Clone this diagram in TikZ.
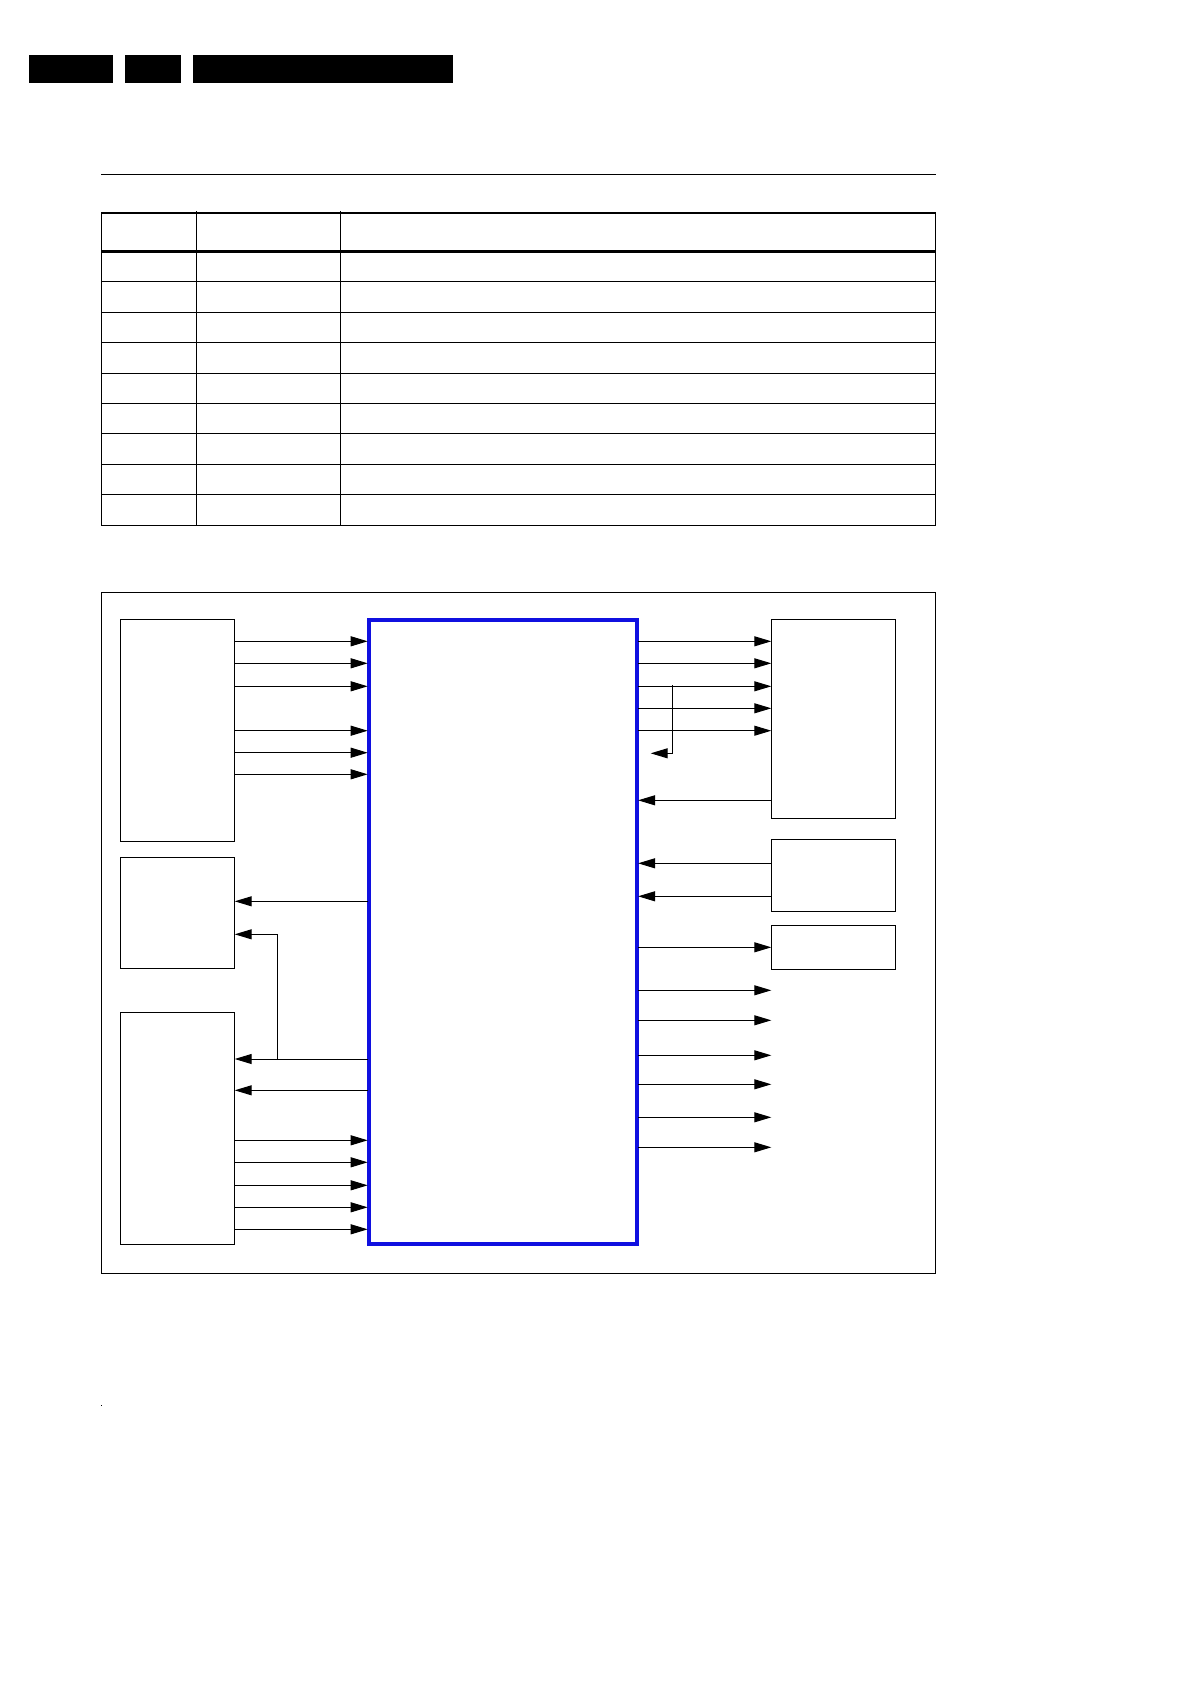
\documentclass[tikz,border=0pt]{standalone}
\usetikzlibrary{arrows.meta}
\definecolor{chipblue}{RGB}{16,16,224}
\begin{document}
\begin{tikzpicture}[x=1pt,y=-1pt,
  box/.style={draw, line width=1.1pt, inner sep=0pt, outer sep=0pt, anchor=north west},
  bar/.style={fill=black, inner sep=0pt, outer sep=0pt, anchor=north west},
  chip/.style={draw=chipblue, line width=4pt, inner sep=0pt, outer sep=0.8pt},
  sig/.style={line width=1pt, -{Triangle[length=17pt,width=10pt]}},
  wire/.style={line width=1pt},
  thin/.style={line width=1.1pt},
  thick/.style={line width=3pt}]
\useasboundingbox (0,0) rectangle (1190,1682);

% header bars
\node[bar, minimum width=84pt, minimum height=28pt] (h1) at (29,55) {};
\node[bar, minimum width=56pt, minimum height=28pt] (h2) at (125,55) {};
\node[bar, minimum width=260pt, minimum height=28pt] (h3) at (193,55) {};

% top rule
\draw[thin] (101,174.3) -- (935.7,174.3);

% table
\draw[thin] (101.3,213) rectangle (935.3,525.3);
\draw[thin] (196.3,211) -- (196.3,525.3);
\draw[thin] (340.3,211) -- (340.3,525.3);
\draw[thick] (101.3,251) -- (935.3,251);
\foreach \yy in {281.3,312.3,342.3,373.3,403.3,433.3,464.3,494.3}
  \draw[thin] (101.3,\yy) -- (935.3,\yy);

% outer frame
\node[box, minimum width=834pt, minimum height=681pt] (frame) at (101.3,592.3) {};

% central block
\node[chip, minimum width=268.8pt, minimum height=624.3pt] (ic) at (502.9,931.85) {};

% left blocks
\node[box, minimum width=114.4pt, minimum height=222pt] (L1) at (120.3,619.3) {};
\node[box, minimum width=114.4pt, minimum height=111pt] (L2) at (120.3,857.3) {};
\node[box, minimum width=114.4pt, minimum height=232pt] (L3) at (120.3,1012.3) {};

% right blocks
\node[box, minimum width=124pt, minimum height=199pt] (R1) at (771.3,619.3) {};
\node[box, minimum width=124pt, minimum height=72pt] (R2) at (771.3,839.3) {};
\node[box, minimum width=124pt, minimum height=44pt] (R3) at (771.3,925.3) {};

% L1 -> ic
\foreach \yy [count=\i] in {641.3,663.3,686.3,730.7,752.7,774.3} {
  \coordinate (a\i) at (0,\yy);
  \draw[sig] (L1.east |- a\i) -- (ic.west |- a\i);
}

% ic -> L2
\coordinate (b1) at (0,901.3);
\draw[sig] (ic.west |- b1) -- (L2.east |- b1);

% ic -> L3 with branch to L2
\coordinate (j1) at (277.3,1059);
\coordinate (b2) at (0,934.3);
\draw[sig] (ic.west |- j1) -- (L3.east |- j1);
\draw[sig] (j1) |- (L2.east |- b2);
\coordinate (b3) at (0,1090.3);
\draw[sig] (ic.west |- b3) -- (L3.east |- b3);

% L3 -> ic
\foreach \yy [count=\i] in {1140.3,1162.3,1185.3,1207.3,1229.3} {
  \coordinate (c\i) at (0,\yy);
  \draw[sig] (L3.east |- c\i) -- (ic.west |- c\i);
}

% ic -> R1
\foreach \yy [count=\i] in {641.3,663.3,686.3,708.3,730.7} {
  \coordinate (d\i) at (0,\yy);
  \draw[sig] (ic.east |- d\i) -- (R1.west |- d\i);
}
% feedback branch
\coordinate (k1) at (672.7,685.3);
\coordinate (k2) at (672.7,753.3);
\coordinate (k3) at (650.7,753.3);
\draw[sig] (k1) -- (k2) -- (k3);

% R1 -> ic
\coordinate (e1) at (0,800.3);
\draw[sig] (R1.west |- e1) -- (ic.east |- e1);

% R2 -> ic
\coordinate (e2) at (0,863.3);
\coordinate (e3) at (0,896.3);
\draw[sig] (R2.west |- e2) -- (ic.east |- e2);
\draw[sig] (R2.west |- e3) -- (ic.east |- e3);

% ic -> R3
\coordinate (f1) at (0,947.3);
\draw[sig] (ic.east |- f1) -- (R3.west |- f1);

% ic -> free outputs
\foreach \yy [count=\i] in {990.3,1020.3,1055.3,1084.3,1117.3,1147.3} {
  \coordinate (g\i) at (0,\yy);
  \draw[sig] (ic.east |- g\i) -- (R3.west |- g\i);
}

% tiny dot
\fill (100.6,1405) rectangle (102,1406.4);
\end{tikzpicture}
\end{document}
